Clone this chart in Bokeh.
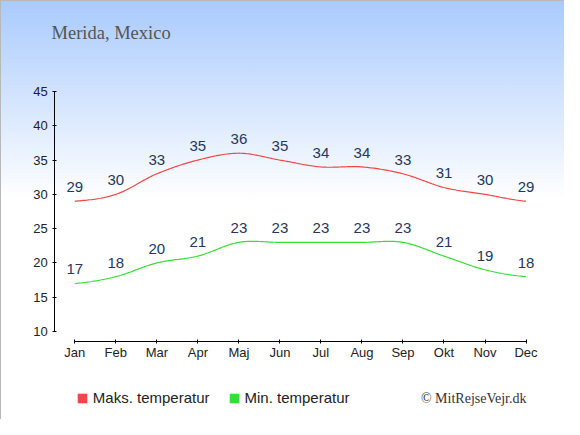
import numpy as np
from bokeh.plotting import figure
from bokeh.models import Range1d, FixedTicker, Label, Legend, LegendItem
from bokeh.core.properties import value
from bokeh.embed import file_html
from bokeh.resources import INLINE

months = ["Jan", "Feb", "Mar", "Apr", "Maj", "Jun", "Jul", "Aug", "Sep", "Okt", "Nov", "Dec"]
max_temp = [29, 30, 33, 35, 36, 35, 34, 34, 33, 31, 30, 29]
min_temp = [17, 18, 20, 21, 23, 23, 23, 23, 23, 21, 19, 18]
y_ticks = [10, 15, 20, 25, 30, 35, 40, 45]
title_text = "Merida, Mexico"
legend_labels = ["Maks. temperatur", "Min. temperatur"]
credit_text = "\u00a9 MitRejseVejr.dk"

MAX_COLOR = "#f04848"
MIN_COLOR = "#33e033"
LABEL_COLOR = "#27375a"


def smooth(vals, n=24):
    """Catmull-Rom style curve through the given points (render only)."""
    y = np.asarray(vals, dtype=float)
    k = len(y)
    m = np.empty(k)
    m[1:-1] = (y[2:] - y[:-2]) / 2.0
    m[0] = (y[1] - y[0]) / 2.0
    m[-1] = (y[-1] - y[-2]) / 2.0
    xs, ys = [], []
    for i in range(k - 1):
        t = np.linspace(0, 1, n, endpoint=False)
        h00 = 2 * t**3 - 3 * t**2 + 1
        h10 = t**3 - 2 * t**2 + t
        h01 = -2 * t**3 + 3 * t**2
        h11 = t**3 - t**2
        xs.extend(i + t)
        ys.extend(h00 * y[i] + h10 * m[i] + h01 * y[i + 1] + h11 * m[i + 1])
    xs.append(k - 1)
    ys.append(y[-1])
    return xs, ys


# frame covers the canvas (except the 30px left strip); axes drawn at fixed positions
p = figure(
    width=564, height=419, title=None,
    x_range=Range1d(-1.080, 11.938), y_range=Range1d(-2.834, 58.271),
    x_axis_location="above",
    output_backend="svg", toolbar_location=None,
    min_border=0, min_border_left=30, min_border_right=0, min_border_top=0, min_border_bottom=0,
    background_fill_color=None, border_fill_color=None, outline_line_color=None,
    styles={"background": "linear-gradient(to bottom, #a9cafd 0px, #ffffff 200px, #ffffff 100%)",
            "box-shadow": "inset 1px 1px 0 0 #b8b8b8"},
)
p.grid.visible = False

for ax in (p.xaxis[0], p.yaxis[0]):
    ax.axis_line_color = "#000000"
    ax.major_tick_line_color = "#000000"
    ax.major_tick_in = 2
    ax.major_tick_out = 2
    ax.minor_tick_in = 0
    ax.minor_tick_out = 0
    ax.major_label_text_font = "Liberation Sans"
    ax.major_label_text_font_size = "13px"
    ax.major_label_text_color = "#222222"

p.yaxis.ticker = FixedTicker(ticks=y_ticks)
p.yaxis.bounds = (10, 45)
p.yaxis.major_label_standoff = 5
p.yaxis.fixed_location = -0.4876

p.xaxis.ticker = FixedTicker(ticks=list(range(len(months))))
p.xaxis.major_label_overrides = {i: m for i, m in enumerate(months)}
p.xaxis.bounds = (0, len(months) - 1)
p.xaxis.major_label_standoff = -21
p.xaxis.fixed_location = 8.542

x_idx = list(range(len(months)))

sx, sy = smooth(max_temp)
p.line(sx, sy, line_color=MAX_COLOR, line_width=1.2)
sx, sy = smooth(min_temp)
p.line(sx, sy, line_color=MIN_COLOR, line_width=1.2)

for vals in (max_temp, min_temp):
    p.text(x=x_idx, y=vals, text=[str(v) for v in vals],
           text_align="center", text_baseline="middle", y_offset=-14,
           text_font=value("Liberation Sans"), text_font_size="15px",
           text_color=LABEL_COLOR)

# legend-only renderers (no visible marks in the plot)
nan = [float("nan")]
r_max = p.quad(left=nan, right=nan, top=nan, bottom=nan, fill_color=MAX_COLOR, line_color=None)
r_min = p.quad(left=nan, right=nan, top=nan, bottom=nan, fill_color=MIN_COLOR, line_color=None)

legend = Legend(
    items=[LegendItem(label=legend_labels[0], renderers=[r_max]),
           LegendItem(label=legend_labels[1], renderers=[r_min])],
    location=(45.8, 13), orientation="horizontal",
    glyph_width=12, glyph_height=12, label_height=16, label_standoff=5, spacing=18,
    padding=0, margin=0, border_line_color=None, background_fill_color=None,
    background_fill_alpha=0, label_text_font="Liberation Sans",
    label_text_font_size="15px", label_text_color="#222222",
)
p.add_layout(legend, "center")

p.add_layout(Label(x=51, y=32, x_units="canvas", y_units="canvas", text=title_text,
                   text_font="Liberation Serif", text_font_size="18.5px",
                   text_color="#555555", text_baseline="middle", text_align="left"))
p.add_layout(Label(x=526, y=398, x_units="canvas", y_units="canvas", text=credit_text,
                   text_font="Liberation Serif", text_font_size="14px",
                   text_color="#333333", text_baseline="middle", text_align="right"))

open("out.html", "w").write(file_html(p, INLINE))
